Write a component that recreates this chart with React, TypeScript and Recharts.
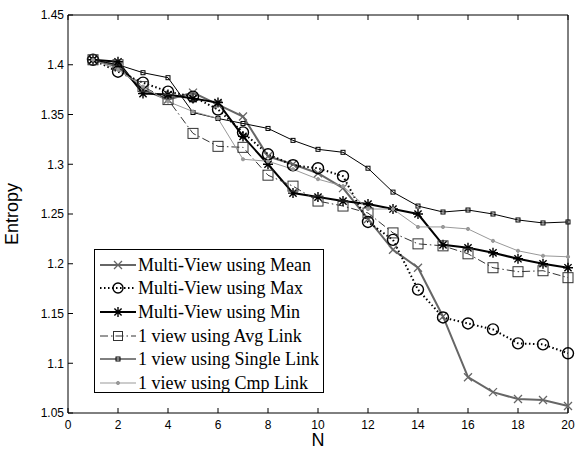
import { LineChart, Line, XAxis, YAxis } from 'recharts';

// N (number of clusters)
const nValues = [1, 2, 3, 4, 5, 6, 7, 8, 9, 10, 11, 12, 13, 14, 15, 16, 17, 18, 19, 20];

const meanValues = [1.405, 1.398, 1.375, 1.365, 1.372, 1.36, 1.348, 1.308, 1.3, 1.291, 1.276, 1.245, 1.214, 1.196, 1.147, 1.086, 1.071, 1.064, 1.063, 1.057];
const maxValues = [1.405, 1.393, 1.382, 1.373, 1.368, 1.355, 1.332, 1.31, 1.299, 1.296, 1.288, 1.242, 1.224, 1.174, 1.146, 1.14, 1.134, 1.12, 1.119, 1.11];
const minValues = [1.405, 1.403, 1.371, 1.37, 1.366, 1.362, 1.328, 1.3, 1.271, 1.267, 1.263, 1.26, 1.255, 1.25, 1.219, 1.216, 1.211, 1.205, 1.2, 1.196];
const avgValues = [1.405, 1.4, 1.378, 1.365, 1.331, 1.318, 1.317, 1.289, 1.278, 1.263, 1.258, 1.251, 1.231, 1.22, 1.218, 1.21, 1.196, 1.192, 1.193, 1.186];
const singleValues = [1.405, 1.4, 1.392, 1.387, 1.352, 1.346, 1.341, 1.336, 1.324, 1.315, 1.312, 1.296, 1.272, 1.258, 1.252, 1.254, 1.25, 1.244, 1.241, 1.242];
const cmpValues = [1.405, 1.395, 1.378, 1.363, 1.353, 1.346, 1.305, 1.303, 1.295, 1.285, 1.278, 1.255, 1.255, 1.237, 1.237, 1.235, 1.223, 1.213, 1.208, 1.207];

const xTicks = [0, 2, 4, 6, 8, 10, 12, 14, 16, 18, 20];
const yTicks = [1.05, 1.1, 1.15, 1.2, 1.25, 1.3, 1.35, 1.4, 1.45];

const data = nValues.map((n, i) => ({
  n,
  mean: meanValues[i],
  max: maxValues[i],
  min: minValues[i],
  avg: avgValues[i],
  single: singleValues[i],
  cmp: cmpValues[i],
}));

const AXIS_FONT = '"Liberation Sans", Arial, sans-serif';
const SERIF = '"Liberation Serif", "Times New Roman", serif';

type MarkProps = { cx?: number; cy?: number; index?: number };

const XMark = ({ cx = 0, cy = 0, color = '#666', s = 4 }: { cx?: number; cy?: number; color?: string; s?: number }) => (
  <path
    d={`M${cx - s},${cy - s}L${cx + s},${cy + s}M${cx - s},${cy + s}L${cx + s},${cy - s}`}
    stroke={color}
    strokeWidth={1.3}
    fill="none"
  />
);

const CircleMark = ({ cx = 0, cy = 0, r = 5.5 }: { cx?: number; cy?: number; r?: number }) => (
  <circle cx={cx} cy={cy} r={r} stroke="#000" strokeWidth={1.4} fill="none" />
);

const StarMark = ({ cx = 0, cy = 0, s = 5 }: { cx?: number; cy?: number; s?: number }) => {
  const d = s * 0.72;
  return (
    <path
      d={`M${cx - s},${cy}L${cx + s},${cy}M${cx},${cy - s}L${cx},${cy + s}M${cx - d},${cy - d}L${cx + d},${cy + d}M${cx - d},${cy + d}L${cx + d},${cy - d}`}
      stroke="#000"
      strokeWidth={1.4}
      fill="none"
    />
  );
};

const SquareMark = ({ cx = 0, cy = 0, s = 5, color = '#333', w = 1 }: { cx?: number; cy?: number; s?: number; color?: string; w?: number }) => (
  <rect x={cx - s} y={cy - s} width={2 * s} height={2 * s} stroke={color} strokeWidth={w} fill="none" />
);

const DotMark = ({ cx = 0, cy = 0 }: { cx?: number; cy?: number }) => (
  <circle cx={cx} cy={cy} r={1.6} fill="#999" stroke="#999" />
);

const series = [
  {
    key: 'mean',
    name: 'Multi-View using Mean',
    color: '#666',
    width: 2,
    dash: undefined as string | undefined,
    mark: (p: MarkProps) => <XMark key={p.index} cx={p.cx} cy={p.cy} />,
    icon: (cx: number, cy: number) => <XMark cx={cx} cy={cy} />,
  },
  {
    key: 'max',
    name: 'Multi-View using Max',
    color: '#000',
    width: 2,
    dash: '1.5 2.5',
    mark: (p: MarkProps) => <CircleMark key={p.index} cx={p.cx} cy={p.cy} />,
    icon: (cx: number, cy: number) => <CircleMark cx={cx} cy={cy} r={5} />,
  },
  {
    key: 'min',
    name: 'Multi-View using Min',
    color: '#000',
    width: 2,
    dash: undefined,
    mark: (p: MarkProps) => <StarMark key={p.index} cx={p.cx} cy={p.cy} />,
    icon: (cx: number, cy: number) => <StarMark cx={cx} cy={cy} />,
  },
  {
    key: 'avg',
    name: '1 view using Avg Link',
    color: '#333',
    width: 1,
    dash: '8 3 1.5 3',
    mark: (p: MarkProps) => <SquareMark key={p.index} cx={p.cx} cy={p.cy} />,
    icon: (cx: number, cy: number) => <SquareMark cx={cx} cy={cy} s={4.5} />,
  },
  {
    key: 'single',
    name: '1 view using Single Link',
    color: '#000',
    width: 1,
    dash: undefined,
    mark: (p: MarkProps) => <SquareMark key={p.index} cx={p.cx} cy={p.cy} s={2} color="#000" />,
    icon: (cx: number, cy: number) => <SquareMark cx={cx} cy={cy} s={2} color="#000" />,
  },
  {
    key: 'cmp',
    name: '1 view using Cmp Link',
    color: '#999',
    width: 1,
    dash: undefined,
    mark: (p: MarkProps) => <DotMark key={p.index} cx={p.cx} cy={p.cy} />,
    icon: (cx: number, cy: number) => <DotMark cx={cx} cy={cy} />,
  },
];

const fmtY = (v: number) => String(Number(v.toFixed(2)));
const blank = () => '';

function BoxLegend() {
  return (
    <div
      style={{
        position: 'absolute',
        left: 94,
        top: 249,
        width: 230,
        height: 144,
        border: '1px solid #000',
        background: '#fff',
        boxSizing: 'border-box',
        paddingTop: 3,
      }}
    >
      {series.map((s) => (
        <div key={s.key} style={{ display: 'flex', alignItems: 'center', height: 23.6 }}>
          <svg width={43} height={20} style={{ flex: 'none' }}>
            <line x1={5} y1={10} x2={41} y2={10} stroke={s.color} strokeWidth={s.width} strokeDasharray={s.dash} />
            {s.icon(23, 10)}
          </svg>
          <span style={{ fontFamily: SERIF, fontSize: 18, color: '#000', whiteSpace: 'nowrap', lineHeight: '20px' }}>
            {s.name}
          </span>
        </div>
      ))}
    </div>
  );
}

export default function App() {
  return (
    <div style={{ position: 'absolute', left: 0, top: 0, width: 576, height: 451, background: '#fff' }}>
      <LineChart width={576} height={451} data={data} margin={{ top: 14, right: 7, bottom: 0, left: 0 }}>
        <XAxis
          xAxisId="b"
          dataKey="n"
          type="number"
          domain={[0, 20]}
          ticks={xTicks}
          height={38}
          tickSize={-5}
          tickMargin={12}
          tick={{ fontSize: 12, fill: '#000', fontFamily: AXIS_FONT }}
          stroke="#000"
          label={{ value: 'N', position: 'insideBottom', offset: 5, fontSize: 18, fill: '#000', fontFamily: AXIS_FONT }}
        />
        <XAxis
          xAxisId="t"
          orientation="top"
          dataKey="n"
          type="number"
          domain={[0, 20]}
          ticks={xTicks}
          height={1}
          tickSize={-5}
          tickFormatter={blank}
          stroke="#000"
        />
        <YAxis
          yAxisId="l"
          type="number"
          domain={[1.05, 1.45]}
          ticks={yTicks}
          width={68}
          tickSize={-5}
          tickMargin={9}
          tickFormatter={fmtY}
          tick={{ fontSize: 12, fill: '#000', fontFamily: AXIS_FONT }}
          stroke="#000"
          label={{
            value: 'Entropy',
            angle: -90,
            position: 'insideLeft',
            offset: 12,
            style: { textAnchor: 'middle' },
            fontSize: 18,
            fill: '#000',
            fontFamily: AXIS_FONT,
          }}
        />
        <YAxis
          yAxisId="r"
          orientation="right"
          type="number"
          domain={[1.05, 1.45]}
          ticks={yTicks}
          width={1}
          tickSize={-5}
          tickFormatter={blank}
          stroke="#000"
        />
        {series.map((s) => (
          <Line
            key={s.key}
            xAxisId="b"
            yAxisId="l"
            dataKey={s.key}
            name={s.name}
            type="linear"
            stroke={s.color}
            strokeWidth={s.width}
            strokeDasharray={s.dash}
            dot={s.mark}
            activeDot={false}
            isAnimationActive={false}
          />
        ))}
      </LineChart>
      <BoxLegend />
    </div>
  );
}
